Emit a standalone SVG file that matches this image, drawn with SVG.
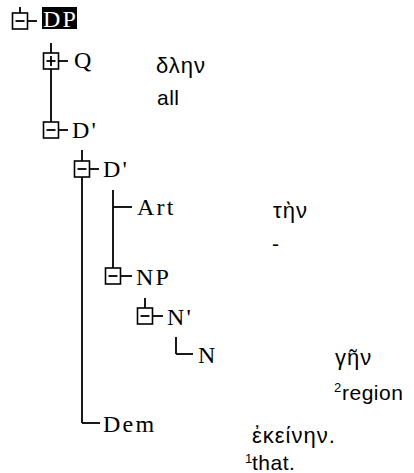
<svg xmlns="http://www.w3.org/2000/svg" xmlns:xlink="http://www.w3.org/1999/xlink" width="414" height="473" viewBox="0 0 414 473">
<style>
.ln{stroke:#000;stroke-width:1.8;fill:none}
.lbl{font-family:"Liberation Serif","Times New Roman",serif;font-size:24px;letter-spacing:2.2px;fill:#000}
.gr{font-family:"Liberation Sans",Arial,sans-serif;font-size:22px;letter-spacing:1px;fill:#000}
.gl{font-family:"Liberation Sans",Arial,sans-serif;font-size:21px;letter-spacing:0.5px;fill:#000}
.sup{font-family:"Liberation Sans",Arial,sans-serif;font-size:13px;fill:#000}
</style>
<defs>
<g id="minus"><rect x="-7.5" y="-8" width="15" height="16" fill="#fff" stroke="#000" stroke-width="1.6"/><line x1="-4.5" y1="0" x2="4.5" y2="0" stroke="#000" stroke-width="1.8"/></g>
<g id="plus"><rect x="-7.5" y="-8" width="15" height="16" fill="#fff" stroke="#000" stroke-width="1.6"/><line x1="-4.5" y1="0" x2="4.5" y2="0" stroke="#000" stroke-width="1.8"/><line x1="0" y1="-5" x2="0" y2="5" stroke="#000" stroke-width="1.8"/></g>
</defs>
<rect width="414" height="473" fill="#fff"/>
<g id="connectors">
<line class="ln" x1="20" y1="7" x2="20" y2="13"/>
<line class="ln" x1="51" y1="43" x2="51" y2="122"/>
<line class="ln" x1="82" y1="150" x2="82" y2="423"/>
<line class="ln" x1="113" y1="190" x2="113" y2="268"/>
<line class="ln" x1="145" y1="298" x2="145" y2="308"/>
<line class="ln" x1="176" y1="337" x2="176" y2="354"/>
<line class="ln" x1="27" y1="21" x2="37" y2="21"/>
<line class="ln" x1="58" y1="61" x2="68" y2="61"/>
<line class="ln" x1="58" y1="130" x2="68" y2="130"/>
<line class="ln" x1="89" y1="169" x2="99" y2="169"/>
<line class="ln" x1="82" y1="423" x2="100" y2="423"/>
<line class="ln" x1="113" y1="207" x2="132" y2="207"/>
<line class="ln" x1="120" y1="276" x2="132" y2="276"/>
<line class="ln" x1="152" y1="316" x2="163" y2="316"/>
<line class="ln" x1="176" y1="354" x2="193" y2="354"/>
</g>
<g id="node-DP"><use xlink:href="#minus" x="20" y="21"/><rect x="42" y="7" width="35" height="22" fill="#000"/><text class="lbl" x="43" y="27" letter-spacing="0.5" style="fill:#fff">DP</text></g>
<g id="node-Q"><use xlink:href="#plus" x="51" y="61"/><text class="lbl" x="74" y="68">Q</text></g>
<g id="node-D1"><use xlink:href="#minus" x="51" y="130"/><text class="lbl" x="72" y="138">D'</text></g>
<g id="node-D2"><use xlink:href="#minus" x="82" y="169"/><text class="lbl" x="103" y="177">D'</text></g>
<g id="node-Art"><text class="lbl" x="137" y="215">Art</text></g>
<g id="node-NP"><use xlink:href="#minus" x="113" y="276"/><text class="lbl" x="136" y="285">NP</text></g>
<g id="node-N1"><use xlink:href="#minus" x="145" y="316"/><text class="lbl" x="167" y="325">N'</text></g>
<g id="node-N"><text class="lbl" x="198" y="363">N</text></g>
<g id="node-Dem"><text class="lbl" x="103" y="432">Dem</text></g>
<g id="glosses">
<text class="gr" x="156" y="73" letter-spacing="3">δλην</text>
<text class="gl" x="157" y="105">all</text>
<text class="gr" x="273" y="218">τὴν</text>
<text class="gl" x="272" y="251">-</text>
<text class="gr" x="335" y="365">γῆν</text>
<text class="sup" x="334" y="392">2</text><text class="gl" x="342" y="400" letter-spacing="1.8">region</text>
<text class="gr" x="252" y="443">ἐκείνην.</text>
<text class="sup" x="245" y="463">1</text><text class="gl" x="252" y="470">that.</text>
</g>
</svg>
